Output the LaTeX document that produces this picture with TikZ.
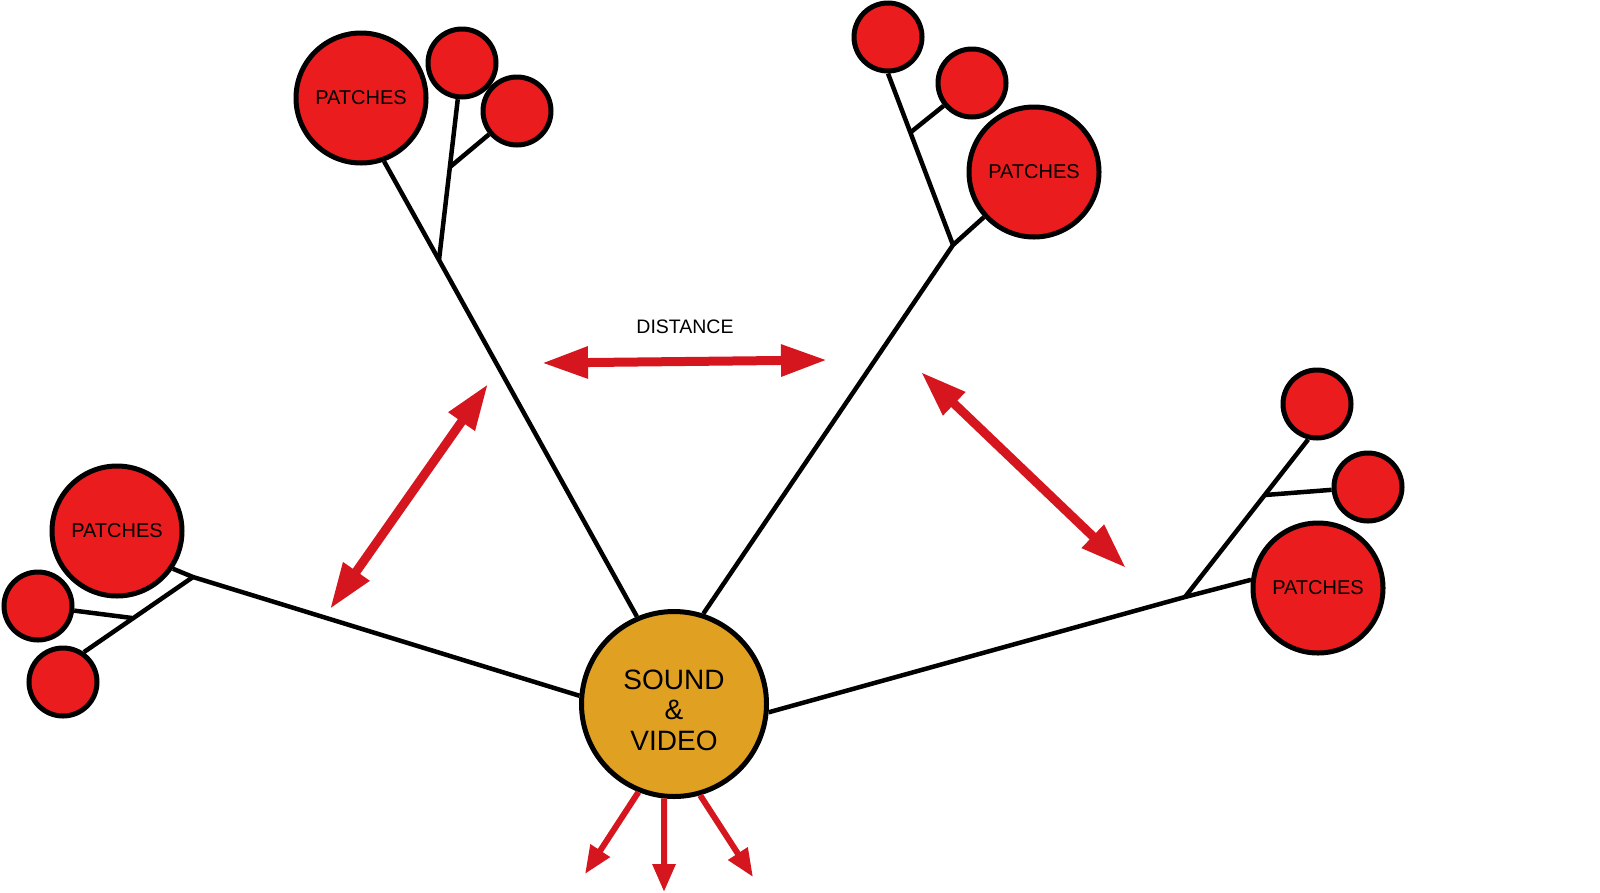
\documentclass[tikz,border=0pt]{standalone}
\usepackage{fontspec}
\setmainfont{Liberation Sans}
\usetikzlibrary{arrows.meta}
\definecolor{patchred}{RGB}{234,28,30}
\definecolor{arrowred}{RGB}{214,22,30}
\definecolor{hubgold}{RGB}{224,160,34}
\tikzset{
  big/.style={circle,draw=black,line width=5pt,fill=patchred,minimum size=130pt,inner sep=0pt,font=\fontsize{20}{20}\selectfont},
  small/.style={circle,draw=black,line width=5pt,fill=patchred,minimum size=68pt,inner sep=0pt},
  hubnode/.style={circle,draw=black,line width=5pt,fill=hubgold,minimum size=185pt,inner sep=0pt},
  hubtext/.style={align=center,inner sep=0pt,font=\fontsize{28}{30.5}\selectfont},
  branch/.style={draw=black,line width=4.5pt},
  dblarrow/.style={draw=arrowred,line width=9pt,{Triangle[length=46pt,width=30pt]}-{Triangle[length=46pt,width=30pt]}},
  outarrow/.style={draw=arrowred,line width=6pt,-{Triangle[length=28pt,width=22pt]}},
}
\begin{document}
\begin{tikzpicture}[x=1pt,y=-1pt]
\useasboundingbox (0,0) rectangle (1600,892);
% nodes
\node[hubnode] (hub) at (674,704) {};
\node[hubtext] (hubtxt) at ([yshift=-6pt]hub.center) {SOUND\\\&\\VIDEO};
% top-left cluster
\node[big] (TLbig) at (361,98) {PATCHES};
\node[small] (TL1) at (462,63) {};
\node[small] (TL2) at (517,111) {};
% top-right cluster
\node[big] (TRbig) at (1034,172) {PATCHES};
\node[small] (TR1) at (888,37) {};
\node[small] (TR2) at (972,83) {};
% left cluster
\node[big] (Lbig) at (117,531) {PATCHES};
\node[small] (L1) at (38,606) {};
\node[small] (L2) at (63,682) {};
% right cluster
\node[big] (Rbig) at (1318,588) {PATCHES};
\node[small] (R1) at (1317,404) {};
\node[small] (R2) at (1368,487) {};
% junctions
\coordinate (j1) at (439,260);
\coordinate (k1) at (450,167);
\coordinate (j2) at (953,245);
\coordinate (k2) at (911,132);
\coordinate (j3) at (193,577);
\coordinate (k3) at (132,618);
\coordinate (j4) at (1185,597);
\coordinate (k4) at (1265,495);
% branches
\draw[branch] (hub.113) -- (j1) -- (TLbig.290);
\draw[branch] (j1) -- (TL1);
\draw[branch] (k1) -- (TL2);
\draw[branch] (hub.72) -- (j2) -- (TRbig);
\draw[branch] (j2) -- (TR1.south);
\draw[branch] (k2) -- (TR2);
\draw[branch] (hub.175) -- (j3) -- (Lbig.326);
\draw[branch] (j3) -- (L2.55);
\draw[branch] (k3) -- (L1);
\draw[branch] (hub.-5) -- (j4) -- (Rbig.173);
\draw[branch] (j4) -- (R1.256);
\draw[branch] (k4) -- (R2);
% distance arrows
\coordinate (d1a) at (542,363);
\coordinate (d1b) at (827,360);
\node[font=\fontsize{19.5}{19.5}\selectfont] (dist) at (685,327) {DISTANCE};
\draw[dblarrow] (d1a) -- (d1b);
\coordinate (d2a) at (330,609);
\coordinate (d2b) at (488,384);
\draw[dblarrow] (d2a) -- (d2b);
\coordinate (d3a) at (921,372);
\coordinate (d3b) at (1126,568);
\draw[dblarrow] (d3a) -- (d3b);
% outgoing arrows
\coordinate (o1) at (585,874);
\coordinate (o2) at (664,892);
\coordinate (o3) at (753,877);
\draw[outarrow] (hub.-112) -- (o1);
\draw[outarrow] (hub.-96) -- (o2);
\draw[outarrow] (hub.-74) -- (o3);
\end{tikzpicture}
\end{document}
